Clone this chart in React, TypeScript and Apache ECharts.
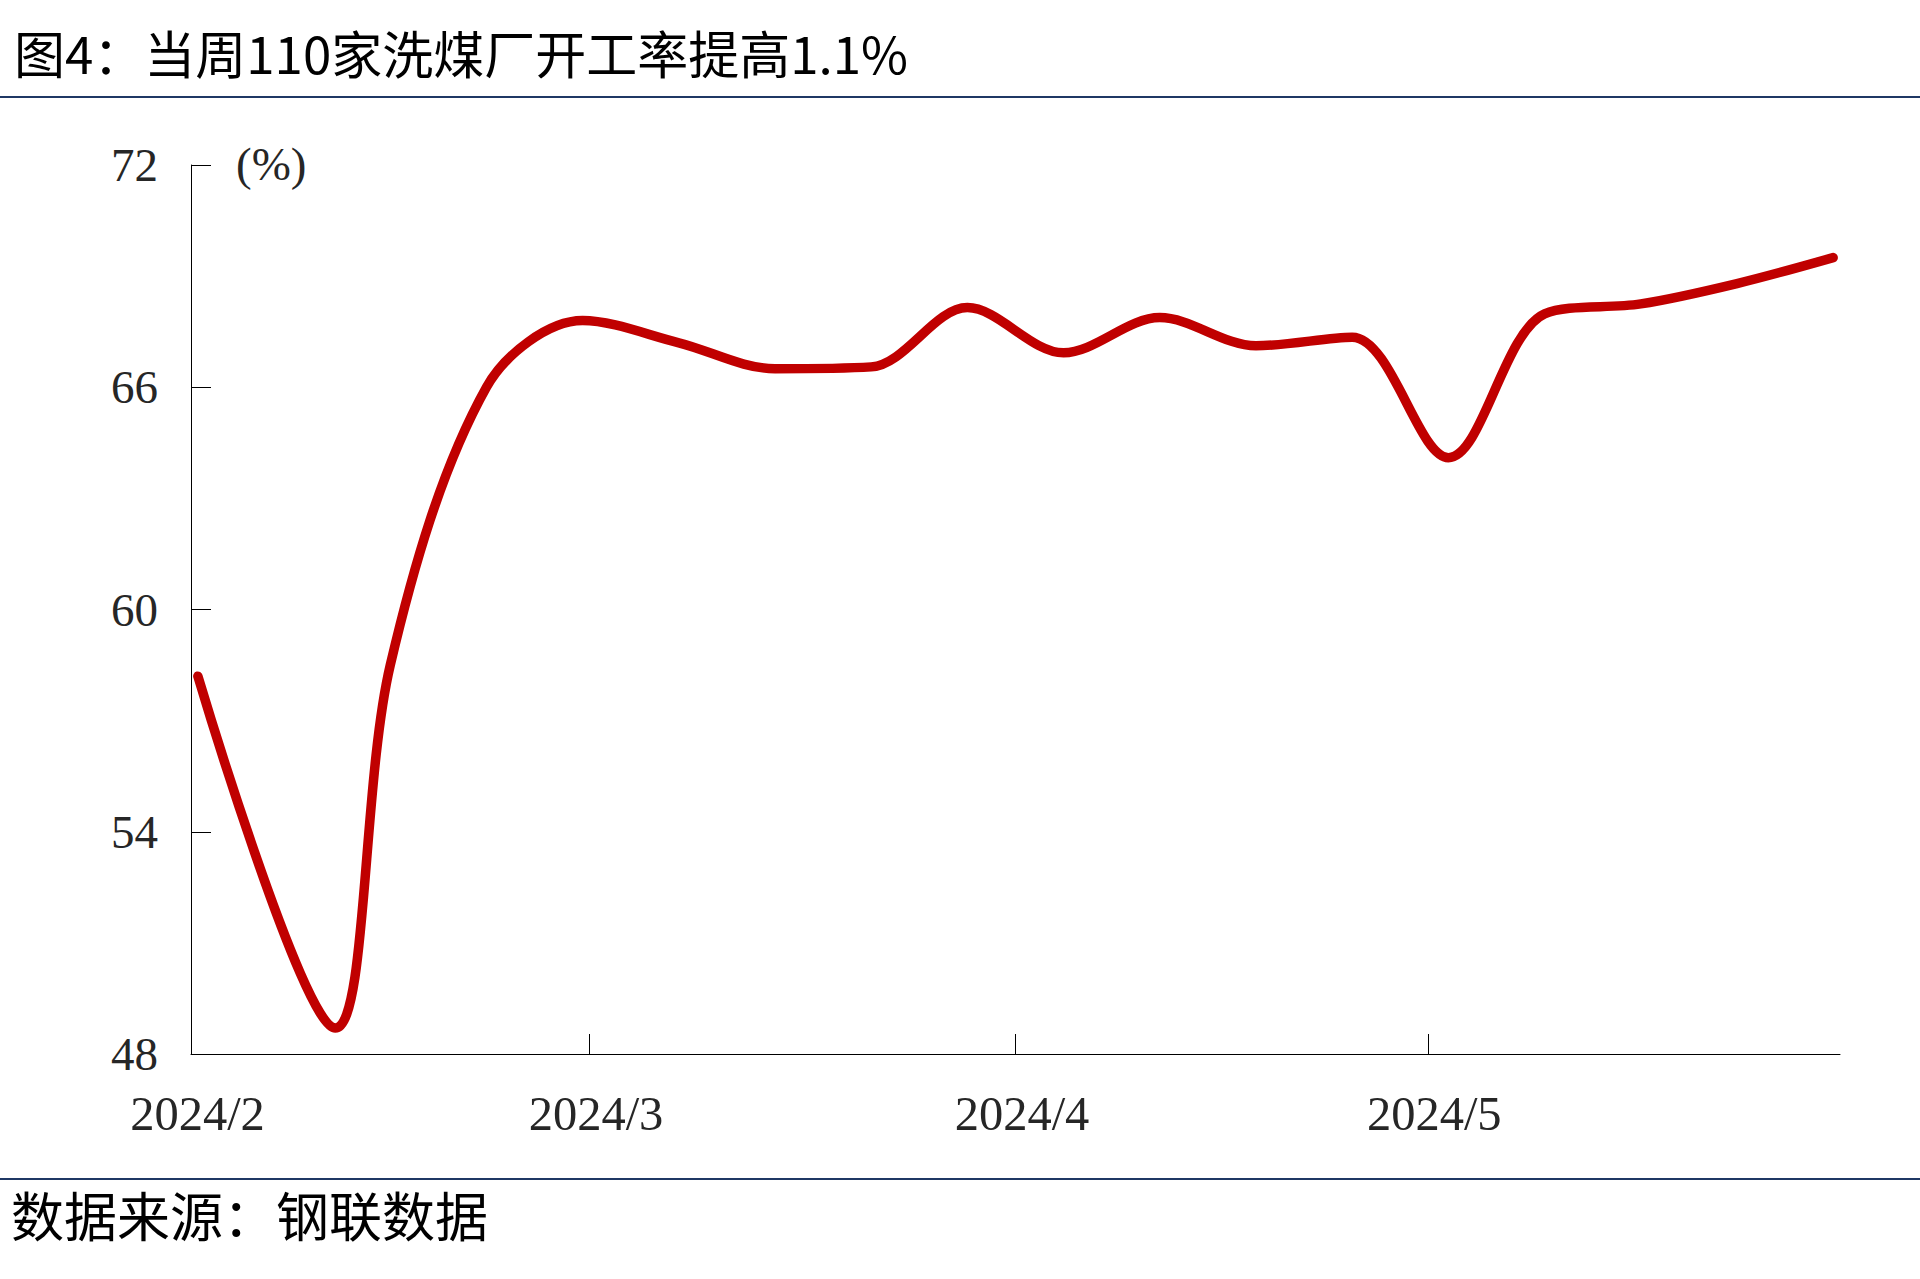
import React, { useEffect, useRef } from "react";
import * as echarts from "echarts";

// ---- Texts ----
const titleText = "图4：当周110家洗煤厂开工率提高1.1%";
const sourceText = "数据来源：钢联数据";
const unitText = "(%)";

// ---- Data (weekly operating rate of 110 coal washing plants, %) ----
const dates = [
  "2024-02-01", "2024-02-11", "2024-02-15", "2024-02-22", "2024-02-29",
  "2024-03-07", "2024-03-14", "2024-03-21", "2024-03-28",
  "2024-04-04", "2024-04-11", "2024-04-18", "2024-04-25",
  "2024-05-02", "2024-05-09", "2024-05-16", "2024-05-23", "2024-05-30",
];
const rates = [
  58.2, 48.7, 58.5, 66.0, 67.8,
  67.2, 66.5, 66.55, 68.15,
  66.93, 67.88, 67.12, 67.35,
  64.1, 67.98, 68.25, 68.8, 69.5,
];

// ---- Axis settings ----
const monthTicks = ["2024-02-01", "2024-03-01", "2024-04-01", "2024-05-01"];
const xMin = "2024-02-01";
const xMax = "2024-05-31";
const yMin = 48;
const yMax = 72;
const yStep = 6;

const HALF_DAY = 12 * 3600 * 1000;
function utc(d: string): number {
  const [y, m, dd] = d.split("-").map(Number);
  return Date.UTC(y, m - 1, dd);
}

const SERIF = "'Liberation Serif', 'Times New Roman', serif";
const CJK = "'Noto Sans CJK SC', 'Noto Sans', sans-serif";

export default function App() {
  const ref = useRef<HTMLDivElement>(null);

  useEffect(() => {
    if (!ref.current) return;
    const chart = echarts.init(ref.current, undefined, { renderer: "svg" });
    const seriesData = dates.map((d, i) => [utc(d) + HALF_DAY, rates[i]]);

    chart.setOption({
      animation: false,
      backgroundColor: "#ffffff",
      grid: { left: 191, top: 165, width: 1649, height: 889, containLabel: false },
      xAxis: {
        type: "value",
        min: utc(xMin),
        max: utc(xMax),
        axisLine: { show: true, lineStyle: { color: "#000000", width: 1 } },
        axisTick: {
          show: true,
          inside: true,
          length: 20,
          lineStyle: { color: "#000000", width: 1 },
          customValues: monthTicks.slice(1).map(utc),
        },
        axisLabel: {
          show: true,
          customValues: monthTicks.map(utc),
          formatter: (v: number) => {
            const d = new Date(v);
            return d.getUTCFullYear() + "/" + (d.getUTCMonth() + 1);
          },
          fontFamily: SERIF,
          fontSize: 48.5,
          color: "#262626",
          margin: 35,
          padding: [0, 0, 0, 13],
          hideOverlap: false,
        },
        splitLine: { show: false },
      },
      yAxis: {
        type: "value",
        min: yMin,
        max: yMax,
        interval: yStep,
        axisLine: { show: true, lineStyle: { color: "#000000", width: 1 } },
        axisTick: { show: true, inside: true, length: 20, lineStyle: { color: "#000000", width: 1 } },
        axisLabel: {
          fontFamily: SERIF,
          fontSize: 47,
          color: "#262626",
          margin: 33,
        },
        splitLine: { show: false },
      },
      series: [
        {
          type: "line",
          data: seriesData,
          showSymbol: false,
          smooth: 0.33,
          clip: false,
          lineStyle: { color: "#C00000", width: 9.5, cap: "round", join: "round" },
          itemStyle: { color: "#C00000" },
        },
      ],
      graphic: [
        {
          type: "text",
          left: 14,
          top: 26,
          style: { text: titleText, font: `51px ${CJK}`, fill: "#000000" },
        },
        {
          type: "line",
          shape: { x1: 0, y1: 97, x2: 1920, y2: 97 },
          style: { stroke: "#1F3864", lineWidth: 2 },
        },
        {
          type: "text",
          left: 236,
          top: 140,
          style: { text: unitText, font: `47px ${SERIF}`, fill: "#262626" },
        },
        {
          type: "line",
          shape: { x1: 0, y1: 1179, x2: 1920, y2: 1179 },
          style: { stroke: "#1F3864", lineWidth: 2 },
        },
        {
          type: "text",
          left: 11,
          top: 1187,
          style: { text: sourceText, font: `53px ${CJK}`, fill: "#000000" },
        },
      ],
    });

    return () => chart.dispose();
  }, []);

  return (
    <div
      ref={ref}
      style={{ position: "fixed", left: 0, top: 0, width: 1920, height: 1279, background: "#ffffff" }}
    />
  );
}
